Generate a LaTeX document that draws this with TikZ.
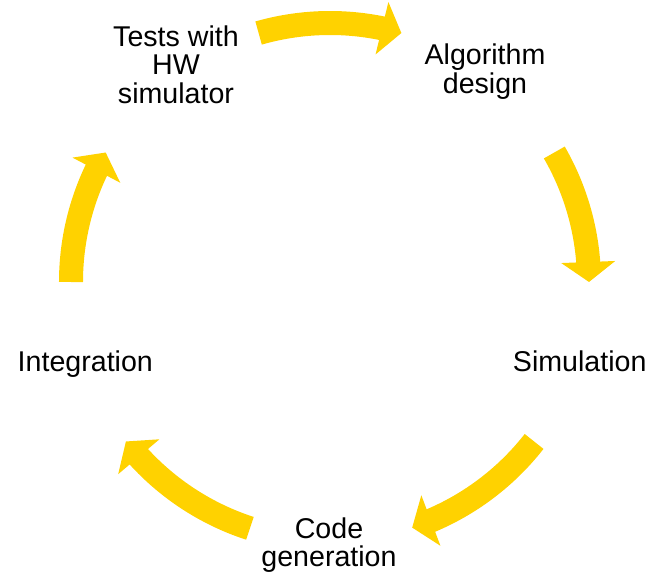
\documentclass[tikz,border=0pt]{standalone}
\usepackage{fontspec}
\setmainfont{Liberation Sans}
\usetikzlibrary{arrows.meta,bending}
\definecolor{cyclegold}{HTML}{FFD200}

\begin{document}
\begin{tikzpicture}[x=1bp,y=1bp,
  stagetext/.style={font=\fontsize{28.6bp}{28.5bp}\selectfont, align=center, inner sep=0pt, anchor=base},
  cyclearrow/.style={draw=cyclegold, line width=24bp, -{Triangle[width=53bp,length=20bp]}}]
\useasboundingbox (-330,-292) rectangle (326,282);

% Etapas do ciclo (base = ultima linha)
\node[stagetext] (tests) at (-154,178.7) {Tests with\\HW\\simulator};
\node[stagetext] (algo) at (155,188.7) {Algorithm\\design};
\node[stagetext] (sim) at (249.7,-90) {Simulation};
\node[stagetext] (code) at (-1,-284.7) {Code\\generation};
\node[stagetext] (integ) at (-244.7,-90) {Integration};

% Setas entre etapas
\foreach \name/\a/\b in {ta/106/74, as/30/0, sc/-38/-71.5, ci/-108/-142, it/180/150} {
    \coordinate (\name) at (\a:259);
    \draw[cyclearrow] (\name) arc[start angle=\a, end angle=\b, radius=259];
}
\end{tikzpicture}
\end{document}
